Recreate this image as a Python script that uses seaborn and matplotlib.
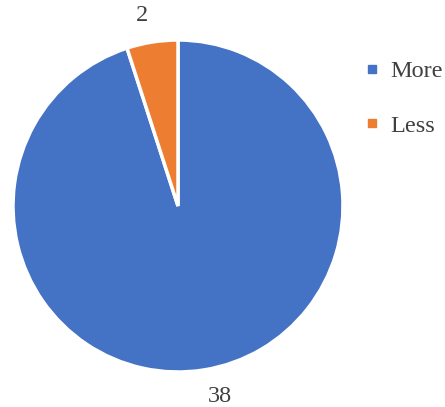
import matplotlib
matplotlib.use("Agg")
import matplotlib.pyplot as plt
from matplotlib.lines import Line2D
import seaborn as sns

categories = ["More", "Less"]
counts = [38, 2]
colors = ["#4472C4", "#ED7D31"]

sns.set_theme(style="white")
plt.rcParams["font.family"] = ["Liberation Serif", "DejaVu Serif"]

W, H = 445, 407
fig = plt.figure(figsize=(W / 100, H / 100), dpi=100)
# pie box: left 13, right 343, top 40, bottom 372 (pixels)
ax = fig.add_axes([13 / W, (H - 372) / H, 330 / W, 332 / H])

wedges, texts = ax.pie(
    counts,
    labels=[str(c) for c in counts],
    colors=sns.color_palette(colors),
    startangle=90,
    counterclock=False,
    labeldistance=1.16,
    wedgeprops=dict(edgecolor="white", linewidth=2.5),
    textprops=dict(fontsize=17.5, color="#404040"),
)
ax.set_aspect("auto")
ax.set_xlim(-1, 1)
ax.set_ylim(-1, 1)
ax.axis("off")

handles = [
    Line2D([], [], marker="s", linestyle="none", markersize=5.5,
           markerfacecolor=c, markeredgecolor=c)
    for c in colors
]
fig.legend(
    handles, categories,
    loc="upper left", bbox_to_anchor=(365 / W, 1 - 60 / H),
    frameon=False, fontsize=17.5, labelcolor="#404040",
    handlelength=0.6, handletextpad=0.45, labelspacing=1.35,
    borderpad=0, borderaxespad=0,
)

fig.savefig("out.png", dpi=100)
